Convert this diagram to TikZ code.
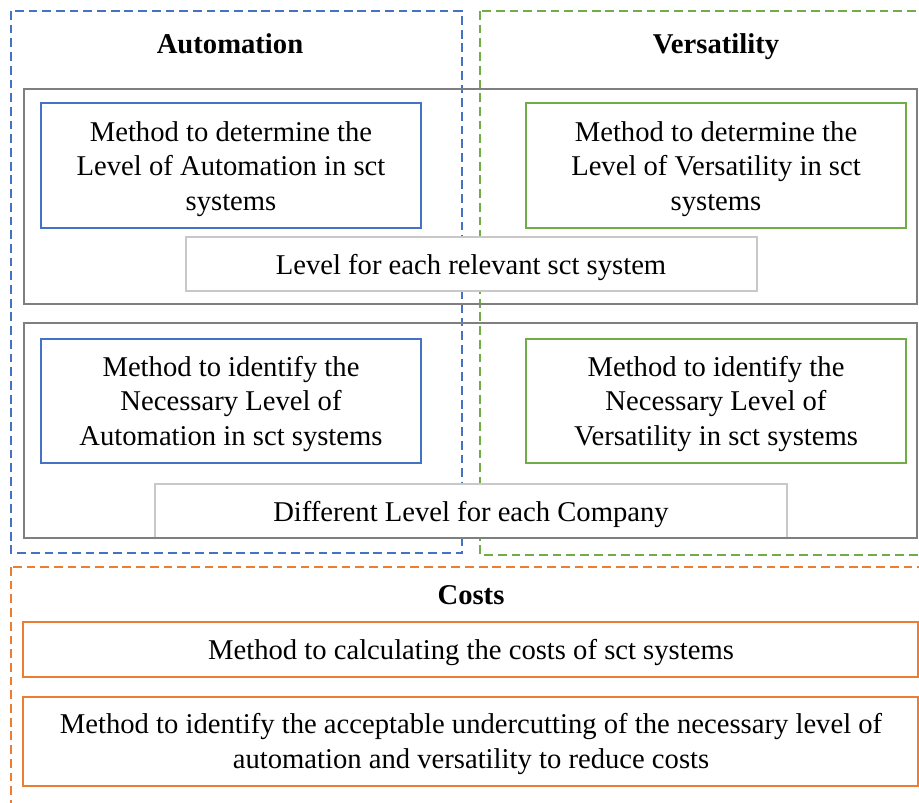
\documentclass[tikz,border=0pt]{standalone}
\usepackage{fontspec}
\setmainfont{Liberation Serif}
\usepackage{xcolor}
\definecolor{autoblue}{HTML}{4472C4}
\definecolor{versgreen}{HTML}{70AD47}
\definecolor{costorange}{HTML}{ED7D31}
\definecolor{framegray}{HTML}{7F7F7F}
\definecolor{labelgray}{HTML}{C8C8C8}
\tikzset{group/.style={dash pattern=on 5pt off 2.8pt, line width=1.3pt},
         methodbox/.style={line width=1.2pt, fill=white},
         levelbox/.style={draw=labelgray, line width=0.6pt, fill=white},
         framebox/.style={draw=framegray, line width=1.5pt},
         txt/.style={align=center, font=\fontsize{16.3}{19.8}\selectfont},
         head/.style={anchor=base, font=\fontsize{16.3}{19.8}\selectfont\bfseries}}

\begin{document}
\begin{tikzpicture}[x=0.02cm, y=-0.02cm]
\clip (0,0) rectangle (919,803);
\fill[white] (0,0) rectangle (919,803);
% dashed groups
\draw[group, draw=autoblue] (11,11) rectangle (462,553);
\draw[group, draw=versgreen] (480,11) rectangle (935,555);
\draw[group, draw=costorange] (11,567) rectangle (935,820);
% result boxes
\draw[levelbox] (186,237) rectangle (757,291);
\draw[levelbox] (155,484) rectangle (787,538);
% gray frames
\draw[framebox] (24,89) rectangle (917,304);
\draw[framebox] (24,323) rectangle (917,538);
% method boxes
\draw[methodbox, draw=autoblue] (41,103) rectangle (421,228);
\draw[methodbox, draw=autoblue] (41,339) rectangle (421,463);
\draw[methodbox, draw=versgreen] (526,103) rectangle (906,228);
\draw[methodbox, draw=versgreen] (526,339) rectangle (906,463);
\draw[methodbox, draw=costorange] (23,622) rectangle (918,677);
\draw[methodbox, draw=costorange] (23,697) rectangle (918,786);

\node[head] (automation) at (230,54) {Automation};
\node[head] (versatility) at (716,54) {Versatility};
\node[head] (costs) at (471,604) {Costs};
\node[txt] (detauto) at (231,169) {Method to determine the\\Level of Automation in sct\\systems};
\node[txt] (detvers) at (716,169) {Method to determine the\\Level of Versatility in sct\\systems};
\node[txt] (levelsys) at (471,268) {Level for each relevant sct system};
\node[txt] (idauto) at (231,404) {Method to identify the\\Necessary Level of\\Automation in sct systems};
\node[txt] (idvers) at (716,404) {Method to identify the\\Necessary Level of\\Versatility in sct systems};
\node[txt] (levelcomp) at (471,515) {Different Level for each Company};
\node[txt] (calccost) at (471,653) {Method to calculating the costs of sct systems};
\node[txt] (undercut) at (471,744) {Method to identify the acceptable undercutting of the necessary level of\\automation and versatility to reduce costs};
\end{tikzpicture}
\end{document}
